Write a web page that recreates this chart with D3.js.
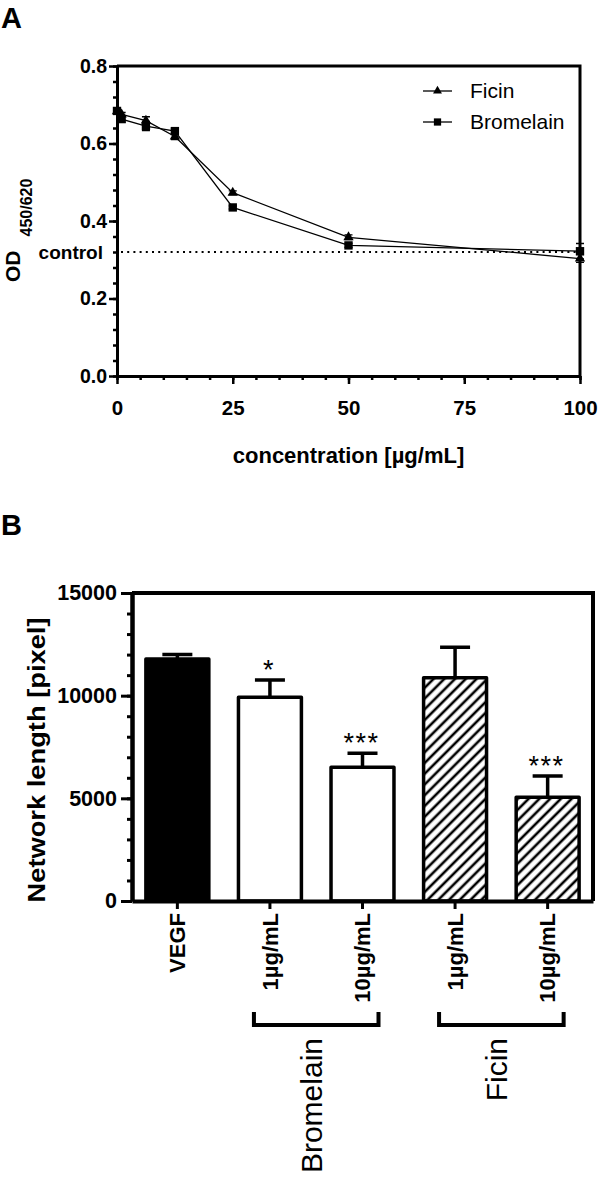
<!DOCTYPE html>
<html><head><meta charset="utf-8">
<script src="https://cdn.jsdelivr.net/npm/d3@7"></script>
<style>
body{margin:0;background:#fff}
svg{display:block}
text{font-family:"Liberation Sans",Arial,sans-serif;fill:#000}
</style>
</head><body>
<svg id="c" width="600" height="1178"></svg>
<script>
// ---------- Panel A data ----------
const concentrations = [0, 1, 6.25, 12.5, 25, 50, 100];
const ficinOD      = [0.683, 0.675, 0.659, 0.618, 0.473, 0.358, 0.303];
const ficinErr     = [0.005, 0.005, 0.010, 0.008, 0.005, 0.006, 0.010];
const bromelainOD  = [0.684, 0.663, 0.645, 0.632, 0.435, 0.337, 0.322];
const bromelainErr = [0.005, 0.008, 0.012, 0.006, 0.004, 0.005, 0.020];
const controlOD = 0.32;
const xTicksA = [0, 25, 50, 75, 100];
const yTicksA = [0.0, 0.2, 0.4, 0.6, 0.8];
const seriesNames = ["Ficin", "Bromelain"];

// ---------- Panel B data ----------
const barLabels = ["VEGF", "1µg/mL", "10µg/mL", "1µg/mL", "10µg/mL"];
const barGroups = ["VEGF", "Bromelain", "Bromelain", "Ficin", "Ficin"];
const barValues = [11780, 9920, 6510, 10875, 5050];
const barErrors = [230, 840, 680, 1480, 1040];
const barStars  = ["", "*", "***", "", "***"];
const groupNames = ["Bromelain", "Ficin"];
const yTicksB = [0, 5000, 10000, 15000];

const svg = d3.select("#c");
const defs = svg.append("defs");
const hatch = defs.append("pattern").attr("id","hatch").attr("patternUnits","userSpaceOnUse")
  .attr("width",7.6).attr("height",7.6).attr("patternTransform","rotate(45)");
hatch.append("rect").attr("width",7.6).attr("height",7.6).attr("fill","#fff");
hatch.append("line").attr("x1",3.8).attr("x2",3.8).attr("y1",0).attr("y2",7.6)
  .attr("stroke","#000").attr("stroke-width",2.6);

function styleAxis(g, w, tw, fs){
  g.select(".domain").attr("stroke","#000").attr("stroke-width",w);
  g.selectAll(".tick line").attr("stroke","#000").attr("stroke-width",tw);
  g.selectAll("text").attr("font-size",fs).attr("font-weight","bold").attr("fill","#000");
}

// ================= Panel A =================
const xA = d3.scaleLinear().domain([0,100]).range([117,580]);
const yA = d3.scaleLinear().domain([0,0.8]).range([376,66]);

svg.append("text").attr("x",1).attr("y",28).attr("font-size",29).attr("font-weight","bold").text("A");

// minor ticks
const gAyMinor = svg.append("g").attr("transform",`translate(${xA(0)},0)`)
  .call(d3.axisLeft(yA).tickValues(d3.range(0,21).map(i=>i*0.04)).tickSize(4).tickSizeOuter(0).tickFormat(""));
styleAxis(gAyMinor,3,2.5,0);
const gAxMinor = svg.append("g").attr("transform",`translate(0,${yA(0)})`)
  .call(d3.axisBottom(xA).tickValues(d3.range(0,21).map(i=>i*5)).tickSize(4).tickSizeOuter(0).tickFormat(""));
styleAxis(gAxMinor,3,2.5,0);

const gAy = svg.append("g").attr("transform",`translate(${xA(0)},0)`)
  .call(d3.axisLeft(yA).tickValues(yTicksA).tickSize(8).tickSizeOuter(0).tickPadding(2).tickFormat(d3.format(".1f")));
styleAxis(gAy,3,2.5,19.5);
const gAx = svg.append("g").attr("transform",`translate(0,${yA(0)})`)
  .call(d3.axisBottom(xA).tickValues(xTicksA).tickSize(8).tickSizeOuter(0).tickPadding(16));
styleAxis(gAx,3,2.5,20.5);

// frame top/right
svg.append("path").attr("d",`M${xA(0)},${yA(0.8)}H${xA(100)}V${yA(0)}`)
  .attr("fill","none").attr("stroke","#000").attr("stroke-width",3);

// control line
svg.append("line").attr("x1",xA(0)+4).attr("x2",xA(100)).attr("y1",yA(controlOD)).attr("y2",yA(controlOD))
  .attr("stroke","#000").attr("stroke-width",2.2).attr("stroke-dasharray","2,4.2");
svg.append("text").attr("x",103).attr("y",yA(controlOD)).attr("dy","0.35em").attr("text-anchor","end")
  .attr("font-size",19).attr("font-weight","bold").text("control");

// axis titles A
const odT = svg.append("text").attr("transform","translate(20,282) rotate(-90)").attr("font-weight","bold");
odT.append("tspan").attr("font-size",21).text("OD");
odT.append("tspan").attr("font-size",16).attr("dx",14).attr("dy",12).text("450/620");

svg.append("text").attr("x",(xA(0)+xA(100))/2).attr("y",463).attr("text-anchor","middle")
  .attr("font-size",22).attr("font-weight","bold").text("concentration [µg/mL]");

// series
const series = [
  {name:seriesNames[0], vals:ficinOD, err:ficinErr, sym:d3.symbolTriangle, size:46},
  {name:seriesNames[1], vals:bromelainOD, err:bromelainErr, sym:d3.symbolSquare, size:70}
];
const lineA = d3.line().x(d=>xA(d[0])).y(d=>yA(d[1]));
series.slice().reverse().forEach(s=>{
  const pts = concentrations.map((c,i)=>[c,s.vals[i],s.err[i]]);
  svg.append("path").datum(pts).attr("d",lineA).attr("fill","none").attr("stroke","#000").attr("stroke-width",1.3);
  const eg = svg.append("g");
  pts.forEach(p=>{
    const x=xA(p[0]), y1=yA(p[1]+p[2]), y2=yA(p[1]-p[2]);
    eg.append("path").attr("d",`M${x},${y1}V${y2}M${x-4},${y1}H${x+4}M${x-4},${y2}H${x+4}`)
      .attr("stroke","#000").attr("stroke-width",1.3).attr("fill","none");
  });
  svg.append("g").selectAll("path").data(pts).join("path")
    .attr("transform",p=>`translate(${xA(p[0])},${yA(p[1])})`)
    .attr("d",d3.symbol(s.sym,s.size)).attr("fill","#000");
});

// legend
series.forEach((s,i)=>{
  const ly = 91 + i*31;
  svg.append("line").attr("x1",423).attr("x2",452).attr("y1",ly).attr("y2",ly).attr("stroke","#000").attr("stroke-width",1.3);
  svg.append("path").attr("transform",`translate(437.5,${ly})`).attr("d",d3.symbol(s.sym,s.size*0.75)).attr("fill","#000");
  svg.append("text").attr("x",470).attr("y",ly+7).attr("font-size",21).text(s.name);
});

// ================= Panel B =================
svg.append("text").attr("x",1).attr("y",535).attr("font-size",29).attr("font-weight","bold").text("B");

const xB = d3.scaleBand().domain(d3.range(barValues.length)).range([132,593]).paddingInner(0.32).paddingOuter(0.15);
const yB = d3.scaleLinear().domain([0,15000]).range([901,593]);

const gByMinor = svg.append("g").attr("transform",`translate(132,0)`)
  .call(d3.axisLeft(yB).tickValues(d3.range(0,16).map(i=>i*1000)).tickSize(5).tickSizeOuter(0).tickFormat(""));
styleAxis(gByMinor,4,3,0);
const gBy = svg.append("g").attr("transform",`translate(132,0)`)
  .call(d3.axisLeft(yB).tickValues(yTicksB).tickSize(11).tickSizeOuter(0).tickPadding(4).tickFormat(d3.format("d")));
styleAxis(gBy,4,3,21.5);

// bars
const bars = svg.append("g");
barValues.forEach((v,i)=>{
  const x = xB(i), w = xB.bandwidth();
  const fill = barGroups[i]==="VEGF" ? "#000" : (barGroups[i]===groupNames[0] ? "#fff" : "url(#hatch)");
  const cx = x + w/2, top = yB(v), et = yB(v+barErrors[i]);
  bars.append("path").attr("d",`M${cx},${top}V${et}M${cx-15},${et}H${cx+15}`)
    .attr("stroke","#000").attr("stroke-width",3.5).attr("fill","none");
  bars.append("rect").attr("x",x).attr("y",top).attr("width",w).attr("height",yB(0)-top)
    .attr("fill",fill).attr("stroke","#000").attr("stroke-width",3.5).attr("stroke-linejoin","round");
  if(barStars[i]){
    bars.append("text").attr("x",cx-1).attr("y",et-1).attr("text-anchor","middle")
      .attr("font-size",27).attr("letter-spacing",1.5).text(barStars[i]);
  }
});

const gBx = svg.append("g").attr("transform",`translate(0,${yB(0)})`)
  .call(d3.axisBottom(xB).tickSize(8).tickSizeOuter(0).tickFormat(i=>barLabels[i]));
styleAxis(gBx,4,3,22);
gBx.selectAll(".tick text").attr("transform","rotate(-90)").attr("text-anchor","end")
  .attr("x",-12).attr("y",0).attr("dy","0.35em");

// frame
svg.append("path").attr("d",`M132,${yB(15000)}H593V${yB(0)}`).attr("fill","none").attr("stroke","#000").attr("stroke-width",4);

svg.append("text").attr("transform",`translate(45,760) rotate(-90)`).attr("text-anchor","middle")
  .attr("font-size",24).attr("font-weight","bold")
  .attr("textLength",285).attr("lengthAdjust","spacingAndGlyphs").text("Network length [pixel]");

// group brackets
groupNames.forEach(g=>{
  const idx = barGroups.map((d,i)=>d===g?i:-1).filter(i=>i>=0);
  const x1 = xB(idx[0]) + xB.bandwidth()/2 - 16, x2 = xB(idx[idx.length-1]) + xB.bandwidth()/2 + 16;
  svg.append("path").attr("d",`M${x1},1012V1025H${x2}V1012`).attr("fill","none").attr("stroke","#000").attr("stroke-width",4);
  const cx = (x1+x2)/2;
  svg.append("text").attr("transform",`translate(${cx+6},1038) rotate(-90)`).attr("text-anchor","end")
    .attr("font-size",30).text(g);
});
</script>
</body></html>
